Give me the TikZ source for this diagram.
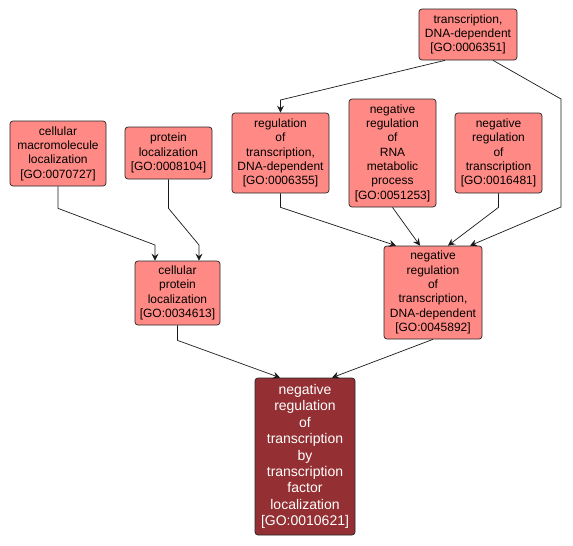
\documentclass[tikz,border=0pt]{standalone}
\usepackage{fontspec}
\setmainfont{Liberation Sans}
\usetikzlibrary{arrows.meta}
\definecolor{termfill}{RGB}{255,138,133}
\definecolor{focusfill}{RGB}{148,48,51}

\begin{document}
\begin{tikzpicture}[x=1pt,y=-1pt,
      term/.style={draw=black!85,fill=termfill,rounded corners=3pt,line width=0.7pt,
                   align=center,inner sep=0pt,font=\fontsize{12}{14.3}\selectfont},
      focus/.style={term,fill=focusfill,text=white,font=\fontsize{14}{16.4}\selectfont},
      edge/.style={draw=black!90,line width=0.7pt,-{Stealth[length=7pt,width=7pt,inset=2.5pt]}}
     ]
    \useasboundingbox (0,0) rectangle (573,546);
    % upper terms
    \node[term,minimum width=96pt,minimum height=65pt] (cml) at (58,153.5)
      {cellular\\macromolecule\\localization\\{[}GO:0070727{]}};
    \node[term,minimum width=87pt,minimum height=52pt] (pl) at (168.5,153)
      {protein\\localization\\{[}GO:0008104{]}};
    \node[term,minimum width=98pt,minimum height=51pt] (tdd) at (468,34.5)
      {transcription,\\DNA-dependent\\{[}GO:0006351{]}};
    \node[term,minimum width=97pt,minimum height=80pt] (rtdd) at (280.5,153)
      {regulation\\of\\transcription,\\DNA-dependent\\{[}GO:0006355{]}};
    \node[term,minimum width=87pt,minimum height=108pt] (nrrna) at (392.5,153)
      {negative\\regulation\\of\\RNA\\metabolic\\process\\{[}GO:0051253{]}};
    \node[term,minimum width=87pt,minimum height=80pt] (nrt) at (498.5,153)
      {negative\\regulation\\of\\transcription\\{[}GO:0016481{]}};
    % middle terms
    \node[term,minimum width=85pt,minimum height=64pt] (cpl) at (177.5,293)
      {cellular\\protein\\localization\\{[}GO:0034613{]}};
    \node[term,minimum width=98pt,minimum height=93pt] (nrtdd) at (433,292.5)
      {negative\\regulation\\of\\transcription,\\DNA-dependent\\{[}GO:0045892{]}};
    % focus term
    \node[focus,minimum width=100pt,minimum height=157pt] (tfl) at (305,456.5)
      {negative\\regulation\\of\\transcription\\by\\transcription\\factor\\localization\\{[}GO:0010621{]}};

    % is_a edges
    \draw[edge] (cml.south) -- ++(0,22) -- (155,245) -- ([xshift=-22.5pt]cpl.north);
    \draw[edge] (pl.south) -- ++(0,29) -- (199,245) -- ([xshift=21.5pt]cpl.north);
    \draw[edge] ([xshift=-23pt]tdd.south) -- (280.5,100) -- (rtdd.north);
    \draw[edge] ([xshift=25pt]tdd.south) -- (561,99) -- (561,207) -- ([xshift=37pt]nrtdd.north);
    \draw[edge] (rtdd.south) -- ++(0,14) -- ([xshift=-37pt]nrtdd.north);
    \draw[edge] (nrrna.south) -- ([xshift=-13pt]nrtdd.north);
    \draw[edge] (nrt.south) -- ++(0,14) -- ([xshift=15pt]nrtdd.north);
    \draw[edge] (cpl.south) -- ++(0,15) -- ([xshift=-25pt]tfl.north);
    \draw[edge] (nrtdd.south) -- ([xshift=27pt]tfl.north);
\end{tikzpicture}
\end{document}
